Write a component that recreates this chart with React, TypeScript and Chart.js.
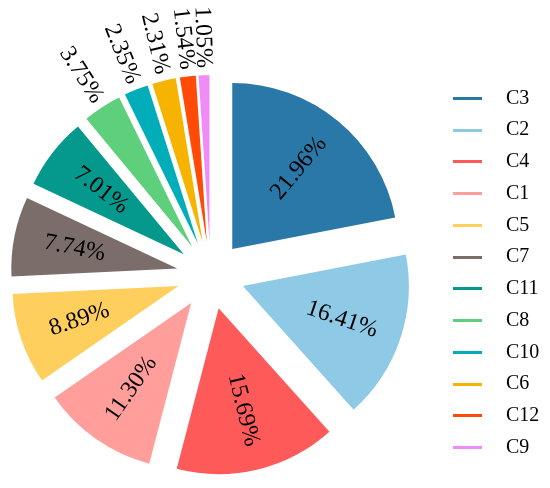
import React, { useEffect, useRef } from "react";
import { Chart, registerables } from "chart.js";

Chart.register(...registerables);

const categories = ["C3", "C2", "C4", "C1", "C5", "C7", "C11", "C8", "C10", "C6", "C12", "C9"];
const shares = [21.96, 16.41, 15.69, 11.3, 8.89, 7.74, 7.01, 3.75, 2.35, 2.31, 1.54, 1.05];
const sliceColors = [
  "#2a78a8",
  "#8ecae6",
  "#ff5a5a",
  "#ff9e9a",
  "#ffcf5e",
  "#7a6d6a",
  "#04998c",
  "#5ecf7a",
  "#02adba",
  "#f6b400",
  "#ff4b05",
  "#f08cf5",
];

const FONT = "'Liberation Serif', 'Times New Roman', Times, serif";
const RADIUS = 166;
const EXPLODE = 34;

function lineImage(color: string): HTMLCanvasElement {
  const c = document.createElement("canvas");
  c.width = 43;
  c.height = 3;
  const g = c.getContext("2d")!;
  g.fillStyle = color;
  g.fillRect(0, 0, 29, 3);
  return c;
}

const explodePlugin = {
  id: "explodeSlices",
  afterDatasetUpdate(chart: any, args: any) {
    const meta = chart.getDatasetMeta(args.index);
    meta.data.forEach((arc: any) => {
      const mid = (arc.startAngle + arc.endAngle) / 2;
      arc.x += Math.cos(mid) * EXPLODE;
      arc.y += Math.sin(mid) * EXPLODE;
    });
  },
};

const pctLabelPlugin = {
  id: "pctLabels",
  afterDatasetsDraw(chart: any) {
    const meta = chart.getDatasetMeta(0);
    const ctx = chart.ctx as CanvasRenderingContext2D;
    meta.data.forEach((arc: any, i: number) => {
      const v = shares[i];
      const mid = (arc.startAngle + arc.endAngle) / 2;
      const r = arc.outerRadius * (v < 5 ? 1.23 : 0.63);
      const x = arc.x + Math.cos(mid) * r;
      const y = arc.y + Math.sin(mid) * r;
      let rot = mid;
      if (Math.cos(mid) < 0) rot += Math.PI;
      ctx.save();
      ctx.translate(x, y);
      ctx.rotate(rot);
      ctx.font = `24px ${FONT}`;
      ctx.fillStyle = "#000";
      ctx.textAlign = "center";
      ctx.textBaseline = "middle";
      ctx.fillText(v.toFixed(2) + "%", 0, 0);
      ctx.restore();
    });
  },
};

export default function App() {
  const ref = useRef<HTMLCanvasElement | null>(null);

  useEffect(() => {
    if (!ref.current) return;
    const images = sliceColors.map(lineImage);
    const chart = new Chart(ref.current, {
      type: "pie",
      data: {
        labels: categories,
        datasets: [
          {
            data: shares,
            backgroundColor: sliceColors,
            borderWidth: 0,
            radius: RADIUS,
          } as any,
        ],
      },
      options: {
        responsive: false,
        animation: false,
        events: [],
        layout: { padding: { left: 0, right: 0, top: 68.5, bottom: 6.1 } },
        plugins: {
          tooltip: { enabled: false },
          legend: {
            position: "right",
            align: "start",
            maxWidth: 100.76,
            labels: {
              usePointStyle: true,
              pointStyleWidth: 43,
              boxHeight: 20,
              padding: 11.76,
              color: "#000",
              font: { family: FONT, size: 20 },
              generateLabels: () =>
                categories.map((c, i) => ({
                  text: c,
                  fillStyle: sliceColors[i],
                  strokeStyle: sliceColors[i],
                  lineWidth: 0,
                  pointStyle: images[i],
                  hidden: false,
                  index: i,
                  fontColor: "#000",
                })),
            },
          },
        },
      } as any,
      plugins: [explodePlugin, pctLabelPlugin],
    });
    return () => chart.destroy();
  }, []);

  return (
    <canvas
      ref={ref}
      width={562}
      height={472}
      style={{ display: "block", marginLeft: -28 }}
    />
  );
}
